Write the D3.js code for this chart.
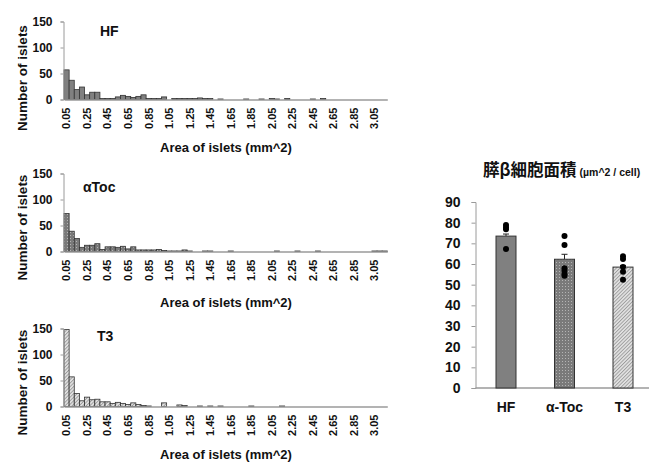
<!DOCTYPE html>
<html>
<head>
<meta charset="utf-8">
<script src="https://cdn.jsdelivr.net/npm/d3@7"></script>
<style>
  html, body { margin: 0; padding: 0; background: #fff; }
  svg text { font-family: "Liberation Sans", Arial, sans-serif; font-weight: bold; fill: #111; }
</style>
</head>
<body>
<svg id="chart" width="649" height="462"></svg>
<script>
// ---------- DATA ----------
const bins = ["0.05","0.10","0.15","0.20","0.25","0.30","0.35","0.40","0.45","0.50",
  "0.55","0.60","0.65","0.70","0.75","0.80","0.85","0.90","0.95","1.00",
  "1.05","1.10","1.15","1.20","1.25","1.30","1.35","1.40","1.45","1.50",
  "1.55","1.60","1.65","1.70","1.75","1.80","1.85","1.90","1.95","2.00",
  "2.05","2.10","2.15","2.20","2.25","2.30","2.35","2.40","2.45","2.50",
  "2.55","2.60","2.65","2.70","2.75","2.80","2.85","2.90","2.95","3.00",
  "3.05","3.10","3.15"];
const binTickLabels = ["0.05","0.25","0.45","0.65","0.85","1.05","1.25","1.45","1.65",
  "1.85","2.05","2.25","2.45","2.65","2.85","3.05"];
const histYTicks = [0, 50, 100, 150];

const hfCounts = [57,37,19,24,9,14,14,2,2,2, 5,8,6,4,6,9,2,2,2,5,
  0,2,2,2,2,2,3,2,2,0, 1,0,0,0,0,1,0,0,1,0, 2,1,0,2,0,0,0,0,1,0,
  2,0,0,0,0,0,0,0,0,0, 0,0,0];
const atocCounts = [73,39,25,8,12,12,15,4,9,9, 8,10,5,9,3,3,3,3,4,2,
  1,1,1,3,1,0,0,1,1,0, 0,0,1,0,0,0,0,0,0,0, 0,1,0,0,0,1,0,0,0,1,
  0,0,0,0,0,0,0,0,0,0, 1,1,1];
const t3Counts = [148,57,25,11,18,13,14,9,9,6, 8,6,4,7,4,2,1,0,0,7,
  0,0,3,2,0,0,1,0,1,0, 1,0,0,0,0,0,1,0,0,0, 0,0,1,0,0,0,0,0,0,0,
  0,0,0,0,0,0,0,0,0,0, 0,0,0];
const histTitles = ["HF", "αToc", "T3"];
const histXTitle = "Area of islets (mm^2)";
const histYTitle = "Number of islets";

const groups = ["HF", "α-Toc", "T3"];
const cellMeans = [73.5, 62.3, 58.5];
const cellSE = [1.0, 2.4, 0.8];
const cellPoints = [
  [78.9, 77.8, 76.8, 67.2],
  [73.6, 69.2, 58.0, 56.7, 55.2, 54.3],
  [63.7, 62.4, 58.5, 56.3, 52.4]
];
const barYTicks = [0,10,20,30,40,50,60,70,80,90];
const barTitleMain = "膵β細胞面積";
const barTitleUnit = "(µm^2 / cell)";

// ---------- DRAW ----------
const svg = d3.select("#chart");
const defs = svg.append("defs");

// dotted pattern (α-Toc)
const pd = defs.append("pattern").attr("id", "dots").attr("patternUnits", "userSpaceOnUse")
  .attr("width", 3).attr("height", 3);
pd.append("rect").attr("width", 3).attr("height", 3).attr("fill", "#7a7a7a");
pd.append("rect").attr("x", 1).attr("y", 1).attr("width", 1).attr("height", 1).attr("fill", "#b4b4b4");

// hatched pattern (T3)
const ph = defs.append("pattern").attr("id", "hatch").attr("patternUnits", "userSpaceOnUse")
  .attr("width", 2.5).attr("height", 2.5).attr("patternTransform", "rotate(45)");
ph.append("rect").attr("width", 2.5).attr("height", 2.5).attr("fill", "#e2e2e2");
ph.append("rect").attr("width", 0.9).attr("height", 2.5).attr("fill", "#9c9c9c");

const fills = ["#808080", "url(#dots)", "url(#hatch)"];
const barStroke = "#333";
const axisColor = "#9a9a9a";

const histData = [hfCounts, atocCounts, t3Counts];
const panels = [
  { y0: 99.5, titleX: 100, titleY: 35.5, yTitleCy: 78, xTitleY: 151.5 },
  { y0: 251.5, titleX: 83, titleY: 191.5, yTitleCy: 227.5, xTitleY: 306.5 },
  { y0: 406.5, titleX: 97, titleY: 341, yTitleCy: 382.5, xTitleY: 459 }
];
const plotH = 78;

const x = d3.scaleBand().domain(bins).range([64, 387.3]).padding(0);

panels.forEach((p, i) => {
  const g = svg.append("g");
  const y = d3.scaleLinear().domain([0, 150]).range([p.y0, p.y0 - plotH]);

  // bars
  g.selectAll("rect.bar").data(bins.map((b, k) => ({ b, v: histData[i][k] })).filter(d => d.v > 0))
    .enter().append("rect")
    .attr("x", d => x(d.b))
    .attr("y", d => y(d.v))
    .attr("width", x.bandwidth())
    .attr("height", d => y(0) - y(d.v))
    .attr("fill", fills[i])
    .attr("stroke", barStroke)
    .attr("stroke-width", 0.8);

  // y axis
  const ya = g.append("g").attr("transform", `translate(${x.range()[0] - 0.5},0)`)
    .call(d3.axisLeft(y).tickValues(histYTicks).tickSize(3).tickPadding(8));
  ya.select(".domain").attr("stroke", axisColor);
  ya.selectAll(".tick line").attr("stroke", axisColor);
  ya.selectAll(".tick text").style("font-size", "12px").attr("fill", "#111");

  // x axis
  const xa = g.append("g").attr("transform", `translate(0,${p.y0})`)
    .call(d3.axisBottom(x).tickValues(binTickLabels).tickSizeOuter(0).tickSize(0).tickPadding(0));
  xa.select(".domain").attr("stroke", axisColor).attr("stroke-width", 1.5);
  xa.selectAll(".tick text")
    .style("font-size", "11px")
    .attr("fill", "#111")
    .attr("text-anchor", "end")
    .attr("transform", "rotate(-90)")
    .attr("x", -8)
    .attr("y", 0)
    .attr("dy", "0.35em");

  // titles
  g.append("text").attr("x", p.titleX).attr("y", p.titleY)
    .style("font-size", "14px").text(histTitles[i]);
  g.append("text").attr("x", 226).attr("y", p.xTitleY).attr("text-anchor", "middle")
    .style("font-size", "13px").text(histXTitle);
  g.append("text").attr("transform", `translate(22,${p.yTitleCy}) rotate(-90)`)
    .attr("text-anchor", "middle").attr("dy", "0.35em")
    .style("font-size", "13.5px").text(histYTitle);
});

// ---------- BAR CHART ----------
const bx = d3.scalePoint().domain(groups).range([476.75, 652.25]).padding(0.5);
const by = d3.scaleLinear().domain([0, 90]).range([388, 202]);
const barW = 20;
const bg = svg.append("g");

const yb = bg.append("g").attr("transform", "translate(475.5,0)")
  .call(d3.axisLeft(by).tickValues(barYTicks).tickSize(4).tickPadding(11).tickSizeOuter(4));
yb.select(".domain").attr("stroke", axisColor);
yb.selectAll(".tick line").attr("stroke", axisColor);
yb.selectAll(".tick text").style("font-size", "14px").attr("fill", "#111");

// x axis line + labels
bg.append("line").attr("x1", 475.5).attr("x2", 649).attr("y1", by(0)).attr("y2", by(0))
  .attr("stroke", axisColor).attr("stroke-width", 1.5);
bg.selectAll("text.cat").data(groups).enter().append("text")
  .attr("x", d => bx(d)).attr("y", 412).attr("text-anchor", "middle")
  .style("font-size", "14px").text(d => d);

// error bars
groups.forEach((gname, i) => {
  const cx = bx(gname);
  bg.append("line").attr("x1", cx).attr("x2", cx)
    .attr("y1", by(cellMeans[i])).attr("y2", by(cellMeans[i] + cellSE[i]))
    .attr("stroke", "#222").attr("stroke-width", 1);
  bg.append("line").attr("x1", cx - 3).attr("x2", cx + 3)
    .attr("y1", by(cellMeans[i] + cellSE[i])).attr("y2", by(cellMeans[i] + cellSE[i]))
    .attr("stroke", "#222").attr("stroke-width", 1);
});

// bars
bg.selectAll("rect.bar").data(groups).enter().append("rect")
  .attr("x", d => bx(d) - barW / 2)
  .attr("y", (d, i) => by(cellMeans[i]))
  .attr("width", barW)
  .attr("height", (d, i) => by(0) - by(cellMeans[i]))
  .attr("fill", (d, i) => fills[i])
  .attr("stroke", barStroke).attr("stroke-width", 1);

// points
groups.forEach((gname, i) => {
  bg.selectAll(null).data(cellPoints[i]).enter().append("circle")
    .attr("cx", bx(gname)).attr("cy", d => by(d)).attr("r", 3)
    .attr("fill", "#000");
});

// title
const t = bg.append("text").attr("x", 483).attr("y", 176);
t.append("tspan").style("font-family", "'Noto Sans CJK JP', sans-serif").style("font-size", "16.5px")
  .text(barTitleMain);
t.append("tspan").attr("dx", 3).style("font-size", "10.5px").text(barTitleUnit);
</script>
</body>
</html>
